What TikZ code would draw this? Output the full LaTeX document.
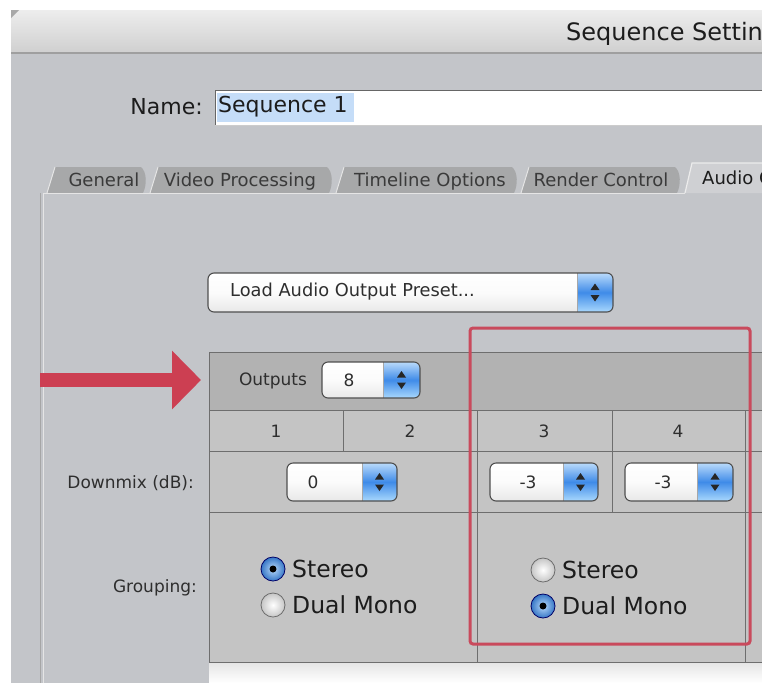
\documentclass[tikz,border=0pt]{standalone}
\usepackage{fontspec}
\setmainfont{DejaVu Sans}
\usetikzlibrary{arrows.meta,calc}
\definecolor{winbg}{HTML}{C3C5C9}
\definecolor{titletop}{HTML}{EDEDED}
\definecolor{titlebot}{HTML}{D0D0D0}
\definecolor{tabfill}{HTML}{A7A8A9}
\definecolor{activetab}{HTML}{CFD0D3}
\definecolor{hdrcell}{HTML}{B2B2B2}
\definecolor{cellbg}{HTML}{C4C4C4}
\definecolor{gridline}{HTML}{6E6E6E}
\definecolor{redc}{HTML}{C94A5C}
\definecolor{arrowc}{HTML}{CC3F52}
\definecolor{hl}{HTML}{C5DDF8}
\definecolor{txt}{HTML}{1C1C1C}
\definecolor{tabtxt}{HTML}{3A3A3A}
\definecolor{celltxt}{HTML}{2E2E2E}
\definecolor{popborder}{HTML}{4F4F4F}
\definecolor{bluetop}{HTML}{B9DAFB}
\definecolor{bluemid}{HTML}{3F8BE8}
\definecolor{bluebot}{HTML}{A9D8FD}
\tikzset{
  bigtxt/.style={inner sep=0, text=txt, font=\fontsize{22}{26}\selectfont},
  tabtext/.style={inner sep=0, text=tabtxt, anchor=base, font=\fontsize{18}{22}\selectfont},
  celltext/.style={inner sep=0, text=celltxt, font=\fontsize{17}{20}\selectfont},
  radiotext/.style={inner sep=0, text=txt, anchor=west, font=\fontsize{23.5}{27}\selectfont},
  gridln/.style={draw=gridline, line width=1},
  radiooff/.style={circle, inner sep=0, minimum size=24, draw=gray!85!black, line width=.8, inner color=white, outer color=gray!45},
  radioon/.style={circle, inner sep=0, minimum size=24, draw=blue!40!black, line width=.8, inner color=bluetop, outer color=bluemid!85!black},
  bigarrow/.style={draw=arrowc, line width=14, -{Triangle[length=29pt, width=57pt]}},
  hlbox/.style={draw=redc, line width=3, rounded corners=3, inner sep=0}
}
% #1 name, #2 x0, #3 y0, #4 x1, #5 y1, #6 stepper x, #7 text node options, #8 text
\newcommand\uipop[8]{%
  \begin{scope}
    \clip[rounded corners=6] (#2,#3) rectangle (#4,#5);
    \shade[top color=white, bottom color=white!82!gray, middle color=white!97!gray] (#2,#3) rectangle (#6,#5);
    \shade[top color=bluetop, bottom color=bluebot, middle color=bluemid] (#6,#3) rectangle (#4,#5);
    \draw[popborder!50, line width=.6] (#6,#3) -- (#6,#5);
  \end{scope}
  \draw[popborder, line width=1.1, rounded corners=6] (#2,#3) rectangle (#4,#5);
  \coordinate (#1s) at ($(#6,#3)!.5!(#4,#5)$);
  \fill[black!85] (#1s) ++(0,-9) -- ++(-4.5,6.5) -- ++(9,0) -- cycle;
  \fill[black!85] (#1s) ++(0,9) -- ++(-4.5,-6.5) -- ++(9,0) -- cycle;
  \node[celltext, #7] (#1) {#8};
}
\begin{document}
\begin{tikzpicture}[x=1pt,y=-1pt]
\useasboundingbox (0,0) rectangle (762,683);
\clip (0,0) rectangle (762,683);
\fill[white] (0,0) rectangle (762,683);
\fill[winbg] (11,10) rectangle (762,683);
% title bar
\shade[top color=titletop, bottom color=titlebot] (11,10) rectangle (762,52);
\draw[gray!75, line width=1.5] (11,53) -- (762,53);
\fill[black!60, opacity=.5] (11,10) -- (19,10) -- (11,18) -- cycle;
\node[bigtxt, anchor=west, font=\fontsize{24}{28}\selectfont] (title) at (566,34) {Sequence Settings};
% name field
\node[bigtxt, anchor=east] (namelbl) at (203,107) {Name:};
\fill[white] (215,90) rectangle (762,125);
\draw[gray!80!black, line width=1] (215,125) -- (215,90) -- (762,90);
\draw[gray!40, line width=.8] (215,125) -- (762,125);
\fill[hl] (217,93) rectangle (354,122);
\node[bigtxt, anchor=west] (nameval) at (218,107) {Sequence 1};
% tabs
\foreach \a/\b/\c/\t [count=\i] in {47/146/104/General, 150/332/240/Video Processing, 336/517/430/Timeline Options, 521/680/601/Render Control}{
  \fill[tabfill] (\a,193) -- (\a+8,167) -- (\b-5,167) .. controls (\b+1,172) and (\b+1,185) .. (\b-3,193) -- cycle;
  \draw[white!80!gray, line width=1] (\a,193) -- (\a+8,167);
  \node[tabtext] (tab\i) at (\c,186) {\t};
}
\fill[activetab] (685,193) -- (692,163) -- (770,163) -- (770,193) -- cycle;
\draw[white!85!gray, line width=1.2] (685,193) -- (692,163) -- (770,163);
\node[tabtext, anchor=base west, text=txt] (tab5) at (702,184) {Audio Outputs};
% panel edges
\draw[white!80!gray, line width=1] (43,193) -- (685,193);
\draw[gray!70, line width=.8] (40,193) -- (40,683);
\draw[white!80!gray, line width=1.4] (43.5,193) -- (43.5,683);
% load preset popup
\uipop{loadpop}{208}{273}{613}{312}{577}{anchor=west, at={(230,292)}, font=\fontsize{17.8}{21}\selectfont}{Load Audio Output Preset...}
% table
\fill[hdrcell] (209,352) rectangle (762,410);
\fill[cellbg] (209,410) rectangle (762,662);
\shade[top color=gray!20, bottom color=white] (209,663) rectangle (762,683);
\foreach \y in {352,410,451,512,662}{ \draw[gridln] (209,\y) -- (762,\y); }
\draw[gridln] (209,352) -- (209,662);
\draw[gridln] (343,410) -- (343,451);
\draw[gridln] (477,410) -- (477,662);
\draw[gridln] (612,410) -- (612,512);
\draw[gridln] (745,410) -- (745,662);
% header row
\node[celltext] (outlbl) at (273,381) {Outputs};
\uipop{outpop}{322}{362}{420}{398}{383}{at={(349,380)}}{8}
% channel numbers
\node[celltext] (ch1) at (276,431) {1};
\node[celltext] (ch2) at (410,431) {2};
\node[celltext] (ch3) at (544,431) {3};
\node[celltext] (ch4) at (678,431) {4};
% downmix
\node[celltext, anchor=east] (dmlbl) at (194,483) {Downmix (dB):};
\uipop{dm12}{287}{463}{397}{501}{362}{at={(313,482)}}{0}
\uipop{dm3}{490}{463}{598}{501}{563}{at={(528,482)}}{-3}
\uipop{dm4}{625}{463}{733}{501}{697}{at={(663,482)}}{-3}
% grouping
\node[celltext, anchor=east] (grplbl) at (197,588) {Grouping:};
\node[radioon] (g1s) at (273,569) {};
\fill[black] (g1s.center) circle (3.5);
\node[radiotext] (g1st) at (292,569) {Stereo};
\node[radiooff] (g1d) at (273,605) {};
\node[radiotext] (g1dt) at (292,605) {Dual Mono};
\node[radiooff] (g2s) at (543,570) {};
\node[radiotext] (g2st) at (562,570) {Stereo};
\node[radioon] (g2d) at (543,606) {};
\fill[black] (g2d.center) circle (3.5);
\node[radiotext] (g2dt) at (562,606) {Dual Mono};
% red highlight box
\node[hlbox, minimum width=280, minimum height=316] (hlrect) at (610,486) {};
% red arrow
\coordinate (arrtail) at (40,380);
\coordinate (arrhead) at (201,380);
\draw[bigarrow] (arrtail) -- (arrhead);
\end{tikzpicture}
\end{document}
